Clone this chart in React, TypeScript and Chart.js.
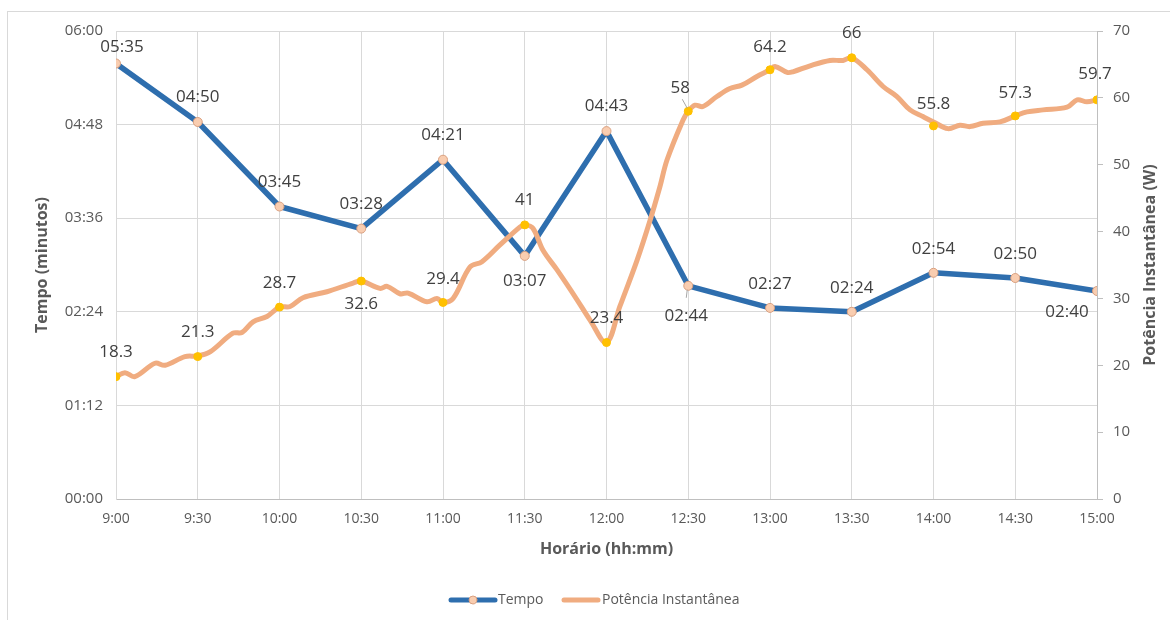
import React, { useEffect, useRef } from 'react';
import { Chart, registerables } from 'chart.js';

Chart.register(...registerables);

// ---- data ----
const timeLabels = ['9:00', '9:30', '10:00', '10:30', '11:00', '11:30', '12:00', '12:30', '13:00', '13:30', '14:00', '14:30', '15:00'];
const slotMinutes = [0, 30, 60, 90, 120, 150, 180, 210, 240, 270, 300, 330, 360];
// Tempo in seconds (mm:ss shown)
const tempoSeconds = [335, 290, 225, 208, 261, 187, 283, 164, 147, 144, 174, 170, 160];
// Potência at the labelled half-hour marks (W)
const potenciaMarked = [18.3, 21.3, 28.7, 32.6, 29.4, 41, 23.4, 58, 64.2, 66, 55.8, 57.3, 59.7];
// Measured power curve (minutes after 9:00, W)
const curveMinutes = [0, 3.3, 6.9, 14.3, 18, 25.3, 30, 34.5, 42.9, 46.2, 50.3, 55.4, 60, 63.9, 68.6, 77.4, 87, 90, 96.9, 99.5, 104.2, 107.2, 114.1, 117.8, 120, 123.7, 129.9, 134.3, 140.9, 148.3, 150, 153, 156.7, 161.8, 169.2, 173.9, 180, 184.9, 191.2, 196, 199.6, 202.2, 208.1, 210, 212.5, 215.4, 220.5, 225.3, 229.7, 235.2, 240, 241.8, 246.3, 248.4, 254.7, 262, 266.8, 270, 275.6, 281.5, 286.6, 291.4, 296.1, 300, 305.3, 309.7, 313.4, 318.2, 324.4, 330, 334.3, 340.2, 349, 352.7, 356.3, 360];
const curveWatts = [18.3, 18.9, 18.3, 20.3, 20.0, 21.3, 21.4, 22.0, 24.8, 24.9, 26.5, 27.3, 28.7, 28.8, 30.1, 31.0, 32.3, 32.6, 31.5, 31.8, 30.7, 30.8, 29.5, 30.0, 29.4, 30.0, 34.7, 35.5, 38.0, 40.7, 41.0, 40.5, 37.2, 34.3, 29.8, 26.8, 23.4, 28.8, 35.7, 41.7, 46.7, 50.7, 56.7, 58.0, 58.9, 58.7, 60.2, 61.4, 61.9, 63.2, 64.2, 64.7, 63.8, 63.9, 64.8, 65.6, 65.6, 66.0, 64.2, 61.7, 60.2, 58.2, 57.2, 56.4, 55.4, 55.9, 55.7, 56.2, 56.4, 57.3, 57.9, 58.2, 58.6, 59.7, 59.4, 59.7];

// ---- style ----
const FONT = "'Open Sans', 'Noto Sans', sans-serif";
const BLUE = '#2E6EAE';
const ORANGE = '#F0AC80';
const YELLOW = '#FFC000';
const MARKER_FILL = '#F9CDB0';
const MARKER_EDGE = '#D9A080';
const GRID = '#d9d9d9';
const AXIS_TEXT = '#595959';
const LABEL_TEXT = '#404040';

// label offsets [dx, dy] relative to point (label centre)
const tempoLabelOffsets = [[6, -16], [0, -25], [0, -24], [0, -24], [0, -25], [0, 25], [0, -25], [-2, 30], [0, -24], [0, -24], [0, -24], [0, -24], [-30, 21]];
const powerLabelOffsets = [[0, -24], [0, -24], [0, -24], [0, 23], [0, -23], [0, -25], [0, -24], [-8, -23], [0, -23], [0, -25], [0, -22], [0, -23], [-2, -26]];

const fmtMMSS = (s: number) => {
  const m = Math.floor(s / 60);
  const r = Math.round(s - m * 60);
  return String(m).padStart(2, '0') + ':' + String(r).padStart(2, '0');
};

const labelsPlugin = {
  id: 'customLabels',
  afterDatasetsDraw(chart: any) {
    const { ctx } = chart;
    const x = chart.scales.x;
    const y = chart.scales.y;
    const y1 = chart.scales.y1;
    ctx.save();
    ctx.font = `17px ${FONT}`;
    ctx.fillStyle = LABEL_TEXT;
    ctx.textAlign = 'center';
    ctx.textBaseline = 'middle';
    // leader lines
    {
      const px = x.getPixelForValue(slotMinutes[7]);
      const py = y1.getPixelForValue(potenciaMarked[7]);
      ctx.strokeStyle = '#a6a6a6';
      ctx.lineWidth = 1;
      ctx.beginPath();
      ctx.moveTo(px - 6, py - 12);
      ctx.lineTo(px - 1, py - 3);
      ctx.stroke();
      const tx = x.getPixelForValue(slotMinutes[7]);
      const ty = y.getPixelForValue(tempoSeconds[7]);
      ctx.beginPath();
      ctx.moveTo(tx - 1, ty + 4);
      ctx.lineTo(tx - 2, ty + 12);
      ctx.stroke();
    }
    tempoSeconds.forEach((v, i) => {
      const px = x.getPixelForValue(slotMinutes[i]);
      const py = y.getPixelForValue(v);
      const [dx, dy] = tempoLabelOffsets[i];
      ctx.fillText(fmtMMSS(v), px + dx, py + dy);
    });
    potenciaMarked.forEach((v, i) => {
      const px = x.getPixelForValue(slotMinutes[i]);
      const py = y1.getPixelForValue(v);
      const [dx, dy] = powerLabelOffsets[i];
      ctx.fillText(String(v), px + dx, py + dy);
    });
    ctx.restore();
  },
  afterDraw(chart: any) {
    const { ctx, chartArea } = chart;
    ctx.save();
    // right axis title (reads bottom to top)
    ctx.font = `bold 16px ${FONT}`;
    ctx.fillStyle = AXIS_TEXT;
    ctx.textAlign = 'center';
    ctx.textBaseline = 'middle';
    ctx.translate(1150, (chartArea.top + chartArea.bottom) / 2);
    ctx.rotate(-Math.PI / 2);
    ctx.fillText('Potência Instantânea (W)', 0, 0);
    ctx.restore();

    ctx.save();
    const ly = 600;
    ctx.lineCap = 'round';
    ctx.lineWidth = 5;
    ctx.strokeStyle = BLUE;
    ctx.beginPath();
    ctx.moveTo(451, ly);
    ctx.lineTo(495, ly);
    ctx.stroke();
    ctx.beginPath();
    ctx.arc(473, ly, 4, 0, Math.PI * 2);
    ctx.fillStyle = MARKER_FILL;
    ctx.fill();
    ctx.lineWidth = 1;
    ctx.strokeStyle = MARKER_EDGE;
    ctx.stroke();
    ctx.lineWidth = 5;
    ctx.strokeStyle = ORANGE;
    ctx.beginPath();
    ctx.moveTo(564, ly);
    ctx.lineTo(598, ly);
    ctx.stroke();
    ctx.font = `14px ${FONT}`;
    ctx.fillStyle = AXIS_TEXT;
    ctx.textAlign = 'left';
    ctx.textBaseline = 'middle';
    ctx.fillText('Tempo', 498, ly);
    ctx.fillText('Potência Instantânea', 602, ly);
    ctx.restore();
  },
};

export default function App() {
  const ref = useRef<HTMLCanvasElement>(null);
  useEffect(() => {
    document.body.style.margin = '0';
    const chart = new Chart(ref.current as HTMLCanvasElement, {
      type: 'line',
      data: {
        datasets: [
          {
            label: 'marcas',
            data: slotMinutes.map((m, i) => ({ x: m, y: potenciaMarked[i] })),
            yAxisID: 'y1',
            showLine: false,
            pointRadius: 4,
            pointBackgroundColor: YELLOW,
            pointBorderColor: YELLOW,
            order: 0,
          },
          {
            label: 'Potência Instantânea',
            data: curveMinutes.map((m, i) => ({ x: m, y: curveWatts[i] })),
            yAxisID: 'y1',
            borderColor: ORANGE,
            borderWidth: 5,
            pointRadius: 0,
            tension: 0.35,
            borderCapStyle: 'round',
            borderJoinStyle: 'round',
            order: 1,
          },
          {
            label: 'Tempo',
            data: slotMinutes.map((m, i) => ({ x: m, y: tempoSeconds[i] })),
            yAxisID: 'y',
            borderColor: BLUE,
            borderWidth: 5.5,
            pointRadius: 4.5,
            pointBackgroundColor: MARKER_FILL,
            pointBorderColor: MARKER_EDGE,
            pointBorderWidth: 1,
            borderJoinStyle: 'round',
            order: 2,
          },
        ],
      } as any,
      options: {
        responsive: false,
        animation: false,
        devicePixelRatio: 1,
        layout: { padding: { left: 33, right: 10, top: 31, bottom: 61 } },
        plugins: { legend: { display: false }, tooltip: { enabled: false } },
        scales: {
          x: {
            type: 'linear',
            position: 'bottom',
            min: 0,
            max: 360,
            afterFit: (s: any) => { s.height = 60; },
            afterBuildTicks: (s: any) => { s.ticks = slotMinutes.map((v) => ({ value: v })); },
            ticks: {
              stepSize: 30,
              autoSkip: false,
              maxRotation: 0,
              padding: 12,
              color: AXIS_TEXT,
              font: { family: FONT, size: 14 },
              callback: (v: any) => timeLabels[Math.round(Number(v) / 30)],
            },
            grid: { color: GRID, drawTicks: false },
            border: { color: '#bfbfbf' },
            title: { display: true, text: 'Horário (hh:mm)', color: AXIS_TEXT, padding: 0, font: { family: FONT, size: 16, weight: 'bold' } },
          },
          y: {
            type: 'linear',
            position: 'left',
            min: 0,
            max: 360,
            afterFit: (s: any) => { s.width = 83; },
            ticks: {
              stepSize: 72,
              padding: 13,
              color: AXIS_TEXT,
              font: { family: FONT, size: 15 },
              callback: (v: any) => fmtMMSS(Number(v)),
            },
            grid: { color: GRID, drawTicks: false },
            border: { color: GRID },
            title: { display: true, text: 'Tempo (minutos)', color: AXIS_TEXT, padding: 0, font: { family: FONT, size: 16, weight: 'bold' } },
          },
          y1: {
            type: 'linear',
            position: 'right',
            min: 0,
            max: 70,
            afterFit: (s: any) => { s.width = 63; },
            ticks: {
              stepSize: 10,
              padding: 10,
              color: AXIS_TEXT,
              font: { family: FONT, size: 15 },
            },
            grid: { drawOnChartArea: false, tickLength: 6, color: '#bfbfbf' },
            border: { color: '#bfbfbf' },
            title: { display: false },
          },
        },
      } as any,
      plugins: [labelsPlugin],
    });
    return () => chart.destroy();
  }, []);
  return (
    <div style={{ position: 'relative', width: 1170, height: 620, background: '#fff', overflow: 'hidden' }}>
      <div style={{ position: 'absolute', left: 7, top: 11, right: 0, bottom: -2, borderLeft: '1px solid #d9d9d9', borderTop: '1px solid #d9d9d9' }} />
      <canvas ref={ref} width={1170} height={620} style={{ position: 'absolute', left: 0, top: 0 }} />
    </div>
  );
}
